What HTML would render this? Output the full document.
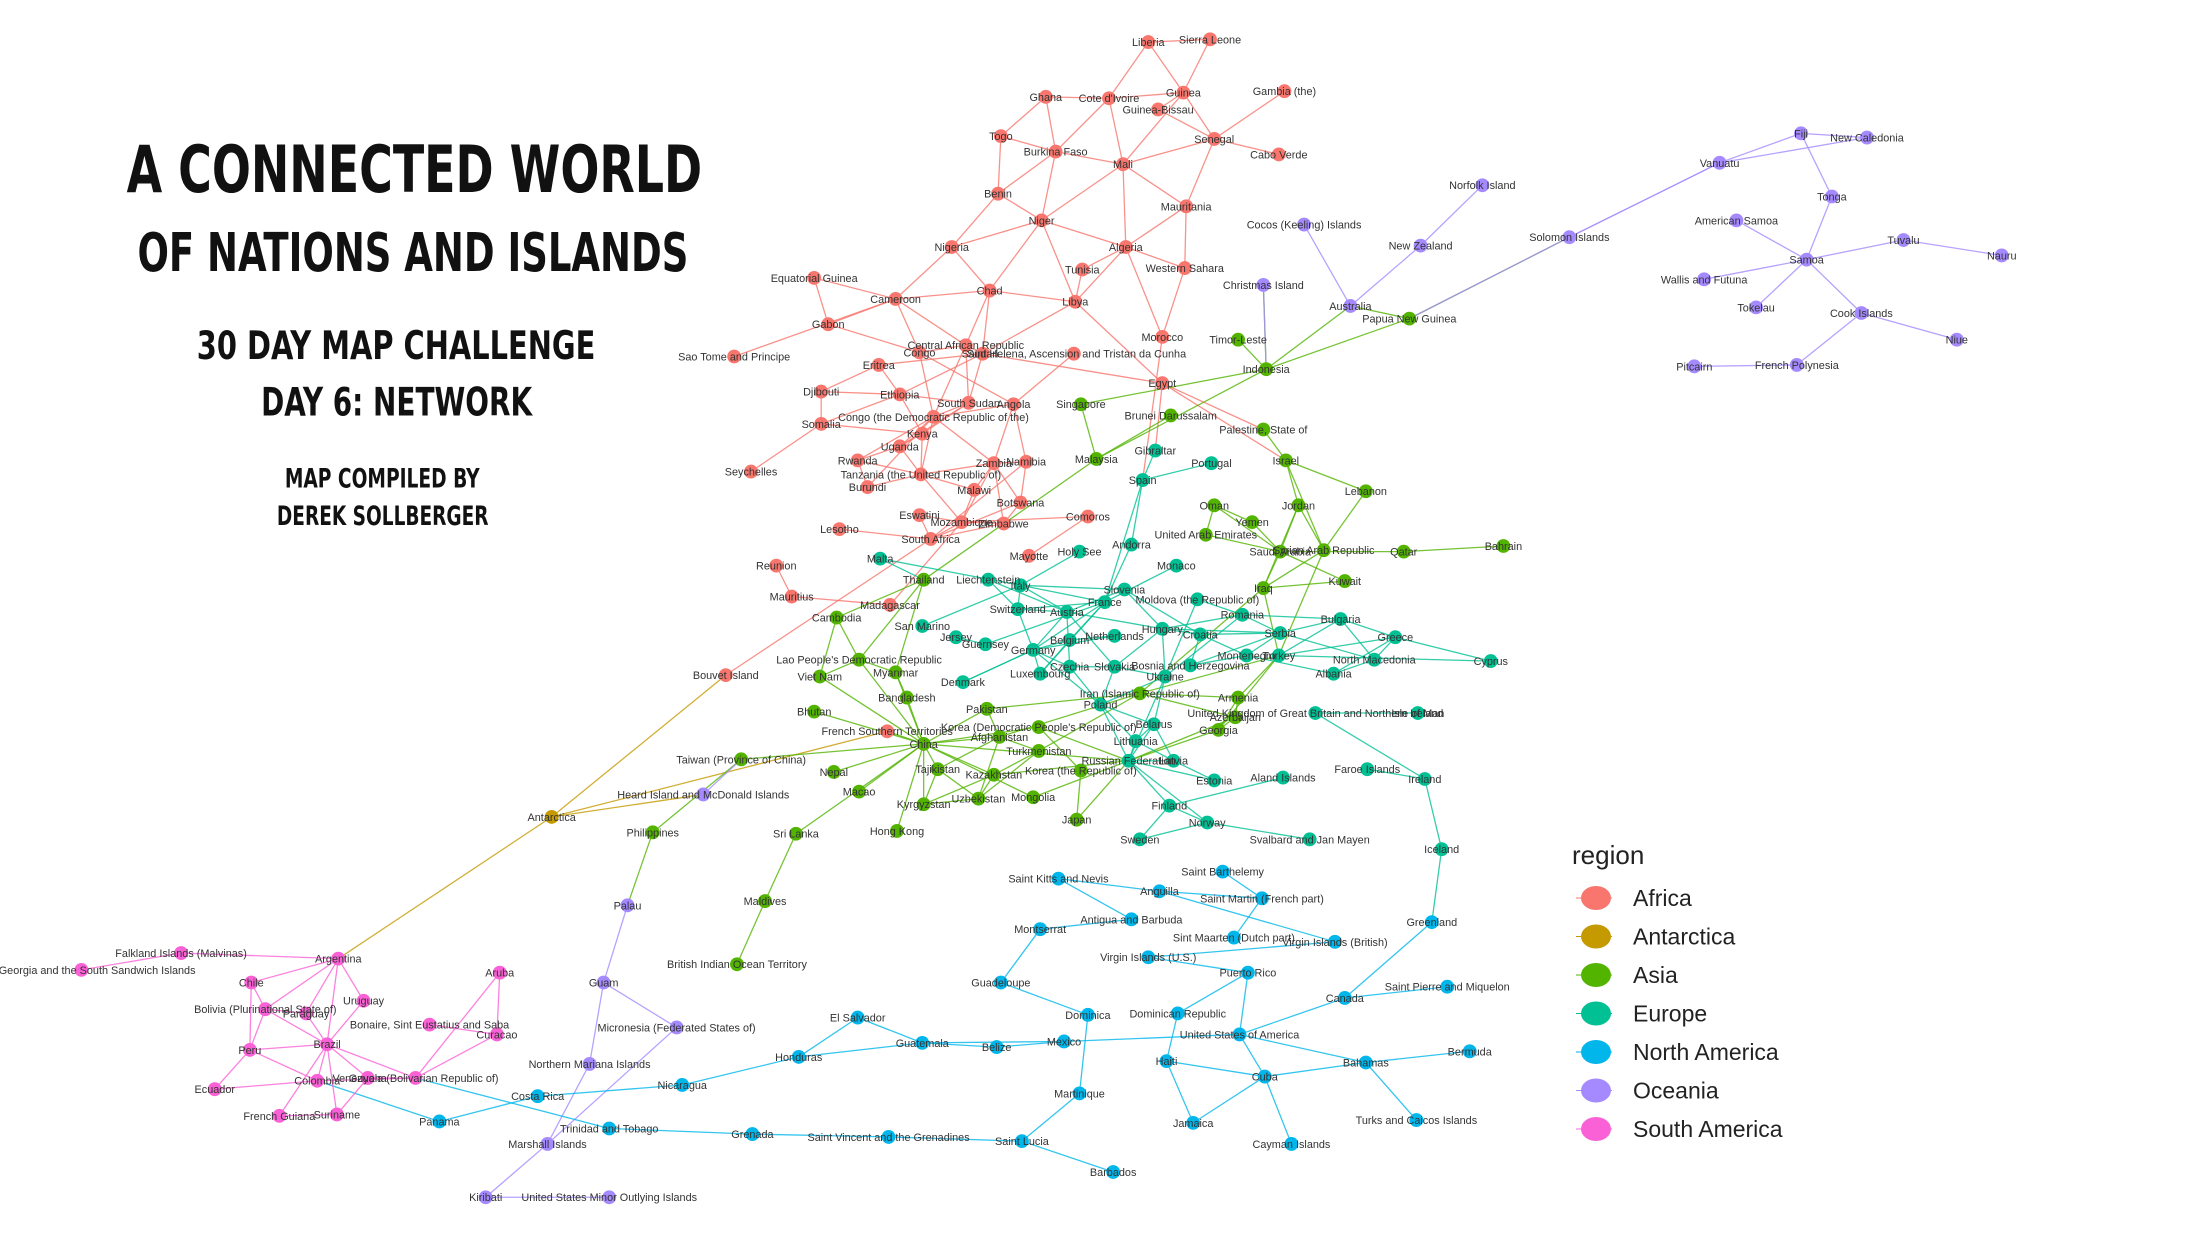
<!DOCTYPE html>
<html><head><meta charset="utf-8">
<style>
html,body{margin:0;padding:0;background:#fff;}
svg{display:block;}
.t{font-family:"DejaVu Sans Condensed","DejaVu Sans","Liberation Sans",sans-serif;font-weight:bold;fill:#111;}
.lbl{font-family:"Liberation Sans",sans-serif;font-size:11px;fill:#333;}
</style></head>
<body>
<svg id="chart" width="2200" height="1256" viewBox="0 0 2200 1256" xmlns="http://www.w3.org/2000/svg">
<rect width="2200" height="1256" fill="#fff"/>
<g transform="scale(0.989)">
<g>
<text class="t" x="128" y="194" font-size="66" textLength="582" lengthAdjust="spacingAndGlyphs">A CONNECTED WORLD</text>
<text class="t" x="139" y="274" font-size="54" textLength="557" lengthAdjust="spacingAndGlyphs">OF NATIONS AND ISLANDS</text>
<text class="t" x="199" y="363" font-size="40" textLength="403" lengthAdjust="spacingAndGlyphs">30 DAY MAP CHALLENGE</text>
<text class="t" x="264" y="420" font-size="40" textLength="274" lengthAdjust="spacingAndGlyphs">DAY 6: NETWORK</text>
<text class="t" x="288" y="493" font-size="27" textLength="197" lengthAdjust="spacingAndGlyphs">MAP COMPILED BY</text>
<text class="t" x="280" y="531" font-size="27" textLength="214" lengthAdjust="spacingAndGlyphs">DEREK SOLLBERGER</text>
</g>
<g id="edges"></g>
<g id="nodes"></g>
</g>
<g id="legend">
<text x="1572" y="864" font-family="Liberation Sans, sans-serif" font-size="26" fill="#222">region</text>
</g>
</svg>
<script>
const regions = ["Africa","Antarctica","Asia","Europe","North America","Oceania","South America"];
const regionColors = ["#F8766D","#C49A00","#53B400","#00C094","#00B6EB","#A58AFF","#FB61D7"];
const nodeNames = [];
const nodeRegion = [];
const nodeX = [];
const nodeY = [];
const rawNodes = `Liberia,0,818,30;Sierra Leone,0,862,28;Ghana,0,745,69;Cote d'Ivoire,0,790,70;Guinea,0,843,66;Guinea-Bissau,0,825,78;Gambia (the),0,915,65;Togo,0,713,97;Burkina Faso,0,752,108;Mali,0,800,117;Senegal,0,865,99;Cabo Verde,0,911,110;Benin,0,711,138;Mauritania,0,845,147;Niger,0,742,157;Nigeria,0,678,176;Algeria,0,802,176;Tunisia,0,771,192;Western Sahara,0,844,191;Chad,0,705,207;Libya,0,766,215;Cameroon,0,638,213;Equatorial Guinea,0,580,198;Gabon,0,590,231;Central African Republic,0,688,246;Congo,0,655,251;Sudan,0,700,252;Saint Helena; Ascension and Tristan da Cunha,0,765,252;Morocco,0,828,240;Egypt,0,828,273;Sao Tome and Principe,0,523,254;Eritrea,0,626,260;Djibouti,0,585,279;Ethiopia,0,641,281;Somalia,0,585,302;South Sudan,0,690,287;Angola,0,722,288;Congo (the Democratic Republic of the),0,665,297;Kenya,0,657,309;Uganda,0,641,318;Rwanda,0,611,328;Tanzania (the United Republic of),0,656,338;Burundi,0,618,347;Zambia,0,708,330;Namibia,0,731,329;Malawi,0,694,349;Seychelles,0,535,336;Botswana,0,727,358;Eswatini,0,655,367;Mozambique,0,685,372;Zimbabwe,0,715,373;Comoros,0,775,368;Lesotho,0,598,377;South Africa,0,663,384;Mayotte,0,733,396;Reunion,0,553,403;Mauritius,0,564,425;Madagascar,0,634,431;Bouvet Island,0,517,481;French Southern Territories,0,632,521;Antarctica,1,393,582;Singapore,2,770,288;Brunei Darussalam,2,834,296;Malaysia,2,781,327;Palestine, State of,2,900,306;Israel,2,916,328;Lebanon,2,973,350;Oman,2,865,360;Jordan,2,925,360;Yemen,2,892,372;United Arab Emirates,2,859,381;Saudi Arabia,2,912,393;Syrian Arab Republic,2,943,392;Qatar,2,1000,393;Bahrain,2,1071,389;Kuwait,2,958,414;Iraq,2,900,419;Thailand,2,658,413;Cambodia,2,596,440;Timor-Leste,2,882,242;Indonesia,2,902,263;Papua New Guinea,2,1004,227;Lao People's Democratic Republic,2,612,470;Viet Nam,2,584,482;Myanmar,2,638,479;Bangladesh,2,646,497;Bhutan,2,580,507;Pakistan,2,703,505;Iran (Islamic Republic of),2,812,494;Armenia,2,882,497;Azerbaijan,2,880,511;Georgia,2,868,520;Korea (Democratic People's Republic of),2,740,518;Afghanistan,2,712,525;China,2,658,530;Turkmenistan,2,740,535;Taiwan (Province of China),2,528,541;Tajikistan,2,668,548;Kazakhstan,2,708,552;Korea (the Republic of),2,770,549;Nepal,2,594,550;Macao,2,612,564;Kyrgyzstan,2,658,573;Uzbekistan,2,697,569;Mongolia,2,736,568;Japan,2,767,584;Sri Lanka,2,567,594;Hong Kong,2,639,592;Philippines,2,465,593;Maldives,2,545,642;British Indian Ocean Territory,2,525,687;Gibraltar,3,823,321;Portugal,3,863,330;Spain,3,814,342;Andorra,3,806,388;Monaco,3,838,403;Holy See,3,769,393;Malta,3,627,398;Liechtenstein,3,704,413;Italy,3,727,417;Slovenia,3,801,420;France,3,787,429;Switzerland,3,725,434;Austria,3,760,436;Moldova (the Republic of),3,853,427;Romania,3,885,438;Bulgaria,3,955,441;San Marino,3,657,446;Hungary,3,828,448;Croatia,3,855,452;Netherlands,3,794,453;Belgium,3,762,456;Serbia,3,912,451;Greece,3,994,454;Jersey,3,681,454;Guernsey,3,702,459;Germany,3,736,463;Montenegro,3,888,467;Turkey,3,911,467;North Macedonia,3,979,470;Cyprus,3,1062,471;Czechia,3,762,475;Slovakia,3,794,475;Bosnia and Herzegovina,3,848,474;Ukraine,3,830,482;Albania,3,950,480;Luxembourg,3,741,480;Denmark,3,686,486;Poland,3,784,502;United Kingdom of Great Britain and Northern Ireland,3,937,508;Isle of Man,3,1010,508;Belarus,3,822,516;Lithuania,3,809,528;Russian Federation,3,804,542;Latvia,3,836,542;Estonia,3,865,556;Aland Islands,3,914,554;Faroe Islands,3,974,548;Ireland,3,1015,555;Finland,3,833,574;Norway,3,860,586;Sweden,3,812,598;Svalbard and Jan Mayen,3,933,598;Iceland,3,1027,605;Greenland,4,1020,657;Saint Barthelemy,4,871,621;Saint Kitts and Nevis,4,754,626;Anguilla,4,826,635;Saint Martin (French part),4,899,640;Antigua and Barbuda,4,806,655;Montserrat,4,741,662;Sint Maarten (Dutch part),4,879,668;Virgin Islands (British),4,951,671;Virgin Islands (U.S.),4,818,682;Puerto Rico,4,889,693;Guadeloupe,4,713,700;Saint Pierre and Miquelon,4,1031,703;Canada,4,958,711;Dominica,4,775,723;Dominican Republic,4,839,722;El Salvador,4,611,725;Guatemala,4,657,743;Belize,4,710,746;Mexico,4,758,742;United States of America,4,883,737;Honduras,4,569,753;Haiti,4,831,756;Bahamas,4,973,757;Bermuda,4,1047,749;Cuba,4,901,767;Nicaragua,4,486,773;Martinique,4,769,779;Costa Rica,4,383,781;Jamaica,4,850,800;Turks and Caicos Islands,4,1009,798;Cayman Islands,4,920,815;Panama,4,313,799;Trinidad and Tobago,4,434,804;Grenada,4,536,808;Saint Vincent and the Grenadines,4,633,810;Saint Lucia,4,728,813;Barbados,4,793,835;Aruba,6,356,693;Curacao,6,354,737;Bonaire, Sint Eustatius and Saba,6,306,730;Falkland Islands (Malvinas),6,129,679;South Georgia and the South Sandwich Islands,6,58,691;Argentina,6,241,683;Chile,6,179,700;Uruguay,6,259,713;Bolivia (Plurinational State of),6,189,719;Paraguay,6,218,722;Brazil,6,233,744;Peru,6,178,748;Colombia,6,226,770;Venezuela (Bolivarian Republic of),6,296,768;Guyana,6,262,768;Ecuador,6,153,776;French Guiana,6,199,795;Suriname,6,240,794;Fiji,5,1283,95;New Caledonia,5,1330,98;Vanuatu,5,1225,116;Tonga,5,1305,140;Norfolk Island,5,1056,132;American Samoa,5,1237,157;Cocos (Keeling) Islands,5,929,160;New Zealand,5,1012,175;Solomon Islands,5,1118,169;Samoa,5,1287,185;Tuvalu,5,1356,171;Nauru,5,1426,182;Wallis and Futuna,5,1214,199;Christmas Island,5,900,203;Australia,5,962,218;Tokelau,5,1251,219;Cook Islands,5,1326,223;Niue,5,1394,242;Pitcairn,5,1207,261;French Polynesia,5,1280,260;Heard Island and McDonald Islands,5,501,566;Palau,5,447,645;Guam,5,430,700;Micronesia (Federated States of),5,482,732;Northern Mariana Islands,5,420,758;Marshall Islands,5,390,815;Kiribati,5,346,853;United States Minor Outlying Islands,5,434,853`;
rawNodes.split(";").reduce((acc, s) => {
  const parts = (acc + s).split(",");
  if (parts.length < 4) return acc + s + ";";
  const y = +parts.pop(), x = +parts.pop(), r = +parts.pop();
  if (isNaN(y) || isNaN(x) || isNaN(r)) return acc + s + ";";
  let name = parts.join(",").replace(";", ",");
  nodeNames.push(name); nodeRegion.push(r); nodeX.push(x); nodeY.push(y);
  return "";
}, "");
const edgeList = `Liberia|Sierra Leone;Liberia|Guinea;Liberia|Cote d'Ivoire;Sierra Leone|Guinea;Guinea|Guinea-Bissau;Guinea|Mali;Guinea|Senegal;Guinea|Cote d'Ivoire;Gambia (the)|Senegal;Guinea-Bissau|Senegal;Senegal|Mali;Senegal|Mauritania;Senegal|Cabo Verde;Ghana|Cote d'Ivoire;Ghana|Togo;Ghana|Burkina Faso;Cote d'Ivoire|Burkina Faso;Cote d'Ivoire|Mali;Togo|Benin;Togo|Burkina Faso;Burkina Faso|Mali;Burkina Faso|Niger;Burkina Faso|Benin;Mali|Niger;Mali|Algeria;Mali|Mauritania;Benin|Niger;Benin|Nigeria;Mauritania|Algeria;Mauritania|Western Sahara;Niger|Nigeria;Niger|Algeria;Niger|Chad;Niger|Libya;Nigeria|Cameroon;Nigeria|Chad;Algeria|Tunisia;Algeria|Libya;Algeria|Morocco;Algeria|Western Sahara;Western Sahara|Morocco;Tunisia|Libya;Libya|Chad;Libya|Egypt;Libya|Sudan;Chad|Cameroon;Chad|Central African Republic;Chad|Sudan;Cameroon|Equatorial Guinea;Cameroon|Gabon;Cameroon|Central African Republic;Cameroon|Congo;Gabon|Equatorial Guinea;Gabon|Congo;Congo|Central African Republic;Congo|Congo (the Democratic Republic of the);Congo|Angola;Egypt|Sudan;Egypt|Israel;Egypt|Palestine, State of;Sao Tome and Principe|Cameroon;Eritrea|Ethiopia;Eritrea|Djibouti;Eritrea|Sudan;Djibouti|Ethiopia;Djibouti|Somalia;Ethiopia|Somalia;Ethiopia|Kenya;Ethiopia|South Sudan;Ethiopia|Sudan;Somalia|Kenya;South Sudan|Central African Republic;South Sudan|Congo (the Democratic Republic of the);South Sudan|Kenya;South Sudan|Uganda;South Sudan|Sudan;Sudan|Central African Republic;Angola|Congo (the Democratic Republic of the);Angola|Zambia;Angola|Namibia;Angola|Saint Helena, Ascension and Tristan da Cunha;Congo (the Democratic Republic of the)|Uganda;Congo (the Democratic Republic of the)|Rwanda;Congo (the Democratic Republic of the)|Burundi;Congo (the Democratic Republic of the)|Tanzania (the United Republic of);Congo (the Democratic Republic of the)|Zambia;Congo (the Democratic Republic of the)|Central African Republic;Kenya|Uganda;Kenya|Tanzania (the United Republic of);Uganda|Rwanda;Uganda|Tanzania (the United Republic of);Rwanda|Burundi;Rwanda|Tanzania (the United Republic of);Burundi|Tanzania (the United Republic of);Tanzania (the United Republic of)|Zambia;Tanzania (the United Republic of)|Malawi;Tanzania (the United Republic of)|Mozambique;Zambia|Malawi;Zambia|Mozambique;Zambia|Zimbabwe;Zambia|Namibia;Zambia|Botswana;Namibia|Botswana;Namibia|South Africa;Botswana|Zimbabwe;Botswana|South Africa;Mozambique|Malawi;Mozambique|Zimbabwe;Mozambique|Eswatini;Mozambique|South Africa;Eswatini|South Africa;Lesotho|South Africa;Zimbabwe|South Africa;Seychelles|Somalia;Comoros|Mozambique;Mayotte|Comoros;Reunion|Mauritius;Mauritius|Madagascar;Madagascar|Mozambique;Bouvet Island|South Africa;Antarctica|Bouvet Island;Antarctica|Argentina;Antarctica|Heard Island and McDonald Islands;Antarctica|French Southern Territories;Morocco|Spain;Egypt|Gibraltar;Spain|Gibraltar;Spain|Portugal;Spain|France;Spain|Andorra;Singapore|Malaysia;Brunei Darussalam|Malaysia;Malaysia|Thailand;Malaysia|Indonesia;Singapore|Indonesia;Indonesia|Timor-Leste;Indonesia|Papua New Guinea;Indonesia|Australia;Indonesia|Christmas Island;Papua New Guinea|Solomon Islands;Papua New Guinea|Australia;Solomon Islands|Vanuatu;Israel|Palestine, State of;Israel|Lebanon;Israel|Jordan;Israel|Syrian Arab Republic;Lebanon|Syrian Arab Republic;Jordan|Syrian Arab Republic;Jordan|Iraq;Jordan|Saudi Arabia;Saudi Arabia|Yemen;Saudi Arabia|Oman;Saudi Arabia|United Arab Emirates;Saudi Arabia|Qatar;Saudi Arabia|Kuwait;Saudi Arabia|Iraq;Oman|Yemen;Oman|United Arab Emirates;Syrian Arab Republic|Iraq;Syrian Arab Republic|Turkey;Iraq|Kuwait;Iraq|Iran (Islamic Republic of);Iraq|Turkey;Qatar|Bahrain;Thailand|Cambodia;Thailand|Lao People's Democratic Republic;Thailand|Myanmar;Cambodia|Lao People's Democratic Republic;Cambodia|Viet Nam;Lao People's Democratic Republic|Viet Nam;Lao People's Democratic Republic|China;Lao People's Democratic Republic|Myanmar;Viet Nam|China;Myanmar|China;Myanmar|Bangladesh;Bhutan|China;Nepal|China;Pakistan|China;Pakistan|Afghanistan;Pakistan|Iran (Islamic Republic of);Afghanistan|Iran (Islamic Republic of);Afghanistan|China;Afghanistan|Turkmenistan;Afghanistan|Tajikistan;Afghanistan|Uzbekistan;Iran (Islamic Republic of)|Turkmenistan;Iran (Islamic Republic of)|Armenia;Iran (Islamic Republic of)|Azerbaijan;Iran (Islamic Republic of)|Turkey;Armenia|Georgia;Armenia|Azerbaijan;Armenia|Turkey;Azerbaijan|Georgia;Azerbaijan|Russian Federation;Georgia|Russian Federation;Georgia|Turkey;China|Korea (Democratic People's Republic of);China|Kazakhstan;China|Kyrgyzstan;China|Tajikistan;China|Mongolia;China|Macao;China|Hong Kong;China|Russian Federation;China|Taiwan (Province of China);China|Bangladesh;China|French Southern Territories;Korea (Democratic People's Republic of)|Korea (the Republic of);Korea (Democratic People's Republic of)|Russian Federation;Kazakhstan|Russian Federation;Kazakhstan|Turkmenistan;Kazakhstan|Uzbekistan;Kazakhstan|Kyrgyzstan;Uzbekistan|Turkmenistan;Uzbekistan|Tajikistan;Uzbekistan|Kyrgyzstan;Kyrgyzstan|Tajikistan;Mongolia|Russian Federation;Japan|Korea (the Republic of);Japan|Russian Federation;Sri Lanka|China;Maldives|Sri Lanka;British Indian Ocean Territory|Maldives;Philippines|Taiwan (Province of China);Philippines|Palau;Palau|Guam;Guam|Northern Mariana Islands;Guam|Micronesia (Federated States of);Micronesia (Federated States of)|Marshall Islands;Marshall Islands|Kiribati;Marshall Islands|Northern Mariana Islands;Kiribati|United States Minor Outlying Islands;Heard Island and McDonald Islands|Taiwan (Province of China);Malta|Italy;Malta|Thailand;France|Belgium;France|Luxembourg;France|Germany;France|Switzerland;France|Italy;France|Monaco;France|Andorra;Italy|Switzerland;Italy|Austria;Italy|Slovenia;Italy|San Marino;Italy|Holy See;Switzerland|Liechtenstein;Switzerland|Austria;Switzerland|Germany;Austria|Liechtenstein;Austria|Germany;Austria|Czechia;Austria|Slovakia;Austria|Hungary;Austria|Slovenia;Slovenia|Croatia;Slovenia|Hungary;Germany|Netherlands;Germany|Belgium;Germany|Luxembourg;Germany|Denmark;Germany|Poland;Germany|Czechia;Belgium|Netherlands;Belgium|Luxembourg;Czechia|Poland;Czechia|Slovakia;Slovakia|Poland;Slovakia|Hungary;Slovakia|Ukraine;Hungary|Croatia;Hungary|Serbia;Hungary|Romania;Hungary|Ukraine;Croatia|Serbia;Croatia|Bosnia and Herzegovina;Croatia|Montenegro;Bosnia and Herzegovina|Serbia;Bosnia and Herzegovina|Montenegro;Serbia|Montenegro;Serbia|Romania;Serbia|Bulgaria;Serbia|North Macedonia;Montenegro|Albania;Albania|North Macedonia;Albania|Greece;North Macedonia|Greece;North Macedonia|Bulgaria;Greece|Bulgaria;Greece|Turkey;Bulgaria|Turkey;Bulgaria|Romania;Romania|Moldova (the Republic of);Romania|Ukraine;Moldova (the Republic of)|Ukraine;Ukraine|Poland;Ukraine|Belarus;Ukraine|Russian Federation;Poland|Belarus;Poland|Lithuania;Poland|Russian Federation;Belarus|Lithuania;Belarus|Latvia;Belarus|Russian Federation;Lithuania|Latvia;Lithuania|Russian Federation;Latvia|Estonia;Latvia|Russian Federation;Estonia|Russian Federation;Russian Federation|Finland;Russian Federation|Norway;Finland|Norway;Finland|Sweden;Norway|Sweden;Finland|Aland Islands;Norway|Svalbard and Jan Mayen;United Kingdom of Great Britain and Northern Ireland|Ireland;United Kingdom of Great Britain and Northern Ireland|Isle of Man;Faroe Islands|Ireland;Ireland|Iceland;Iceland|Greenland;Cyprus|Turkey;Cyprus|Greece;Jersey|Guernsey;Guernsey|France;Denmark|Germany;Greenland|Canada;Canada|United States of America;Canada|Saint Pierre and Miquelon;United States of America|Mexico;United States of America|Bahamas;United States of America|Cuba;United States of America|Puerto Rico;Bahamas|Bermuda;Bahamas|Turks and Caicos Islands;Bahamas|Cuba;Cuba|Haiti;Cuba|Jamaica;Cuba|Cayman Islands;Haiti|Dominican Republic;Haiti|Jamaica;Dominican Republic|Puerto Rico;Puerto Rico|Virgin Islands (U.S.);Virgin Islands (U.S.)|Virgin Islands (British);Virgin Islands (British)|Anguilla;Anguilla|Saint Martin (French part);Saint Martin (French part)|Sint Maarten (Dutch part);Saint Martin (French part)|Saint Barthelemy;Anguilla|Saint Kitts and Nevis;Saint Kitts and Nevis|Antigua and Barbuda;Antigua and Barbuda|Montserrat;Montserrat|Guadeloupe;Guadeloupe|Dominica;Dominica|Martinique;Martinique|Saint Lucia;Saint Lucia|Saint Vincent and the Grenadines;Saint Lucia|Barbados;Saint Vincent and the Grenadines|Grenada;Grenada|Trinidad and Tobago;Trinidad and Tobago|Venezuela (Bolivarian Republic of);Mexico|Guatemala;Mexico|Belize;Guatemala|Belize;Guatemala|El Salvador;Guatemala|Honduras;El Salvador|Honduras;Honduras|Nicaragua;Nicaragua|Costa Rica;Costa Rica|Panama;Panama|Colombia;Argentina|Chile;Argentina|Bolivia (Plurinational State of);Argentina|Paraguay;Argentina|Uruguay;Argentina|Brazil;Argentina|Falkland Islands (Malvinas);Falkland Islands (Malvinas)|South Georgia and the South Sandwich Islands;Chile|Bolivia (Plurinational State of);Chile|Peru;Bolivia (Plurinational State of)|Paraguay;Bolivia (Plurinational State of)|Brazil;Bolivia (Plurinational State of)|Peru;Paraguay|Brazil;Uruguay|Brazil;Brazil|Peru;Brazil|Colombia;Brazil|Venezuela (Bolivarian Republic of);Brazil|Guyana;Brazil|Suriname;Brazil|French Guiana;Peru|Ecuador;Peru|Colombia;Colombia|Ecuador;Colombia|Venezuela (Bolivarian Republic of);Venezuela (Bolivarian Republic of)|Guyana;Guyana|Suriname;Suriname|French Guiana;Venezuela (Bolivarian Republic of)|Aruba;Venezuela (Bolivarian Republic of)|Curacao;Curacao|Bonaire, Sint Eustatius and Saba;Aruba|Curacao;Fiji|Vanuatu;Fiji|Tonga;Fiji|New Caledonia;Vanuatu|New Caledonia;Vanuatu|Solomon Islands;Tonga|Samoa;Samoa|American Samoa;Samoa|Wallis and Futuna;Samoa|Tokelau;Samoa|Tuvalu;Samoa|Cook Islands;Tuvalu|Nauru;Cook Islands|Niue;Cook Islands|French Polynesia;French Polynesia|Pitcairn;Australia|New Zealand;New Zealand|Norfolk Island;Australia|Cocos (Keeling) Islands;Christmas Island|Indonesia;Solomon Islands|Papua New Guinea`.split(";");

const SX = 2200/1550, SY = 1256/885;
function xScale(v){ return v*SX; }
function yScale(v){ return v*SY; }
const NS = "http://www.w3.org/2000/svg";
const idx = {}; nodeNames.forEach((n,i)=>idx[n]=i);
const gE = document.getElementById("edges"), gN = document.getElementById("nodes");
edgeList.forEach(e=>{
  const [a,b] = e.split("|"); const i=idx[a], j=idx[b];
  if(i===undefined||j===undefined) return;
  const l = document.createElementNS(NS,"line");
  l.setAttribute("x1",xScale(nodeX[i])); l.setAttribute("y1",yScale(nodeY[i]));
  l.setAttribute("x2",xScale(nodeX[j])); l.setAttribute("y2",yScale(nodeY[j]));
  l.setAttribute("stroke",regionColors[nodeRegion[i]]);
  l.setAttribute("stroke-width","1.3"); l.setAttribute("stroke-opacity","0.8");
  
  
  gE.appendChild(l);
});
nodeNames.forEach((n,i)=>{
  const c = document.createElementNS(NS,"circle");
  c.setAttribute("cx",xScale(nodeX[i])); c.setAttribute("cy",yScale(nodeY[i]));
  c.setAttribute("r","7"); c.setAttribute("fill",regionColors[nodeRegion[i]]);
  
  
  gN.appendChild(c);
});
nodeNames.forEach((n,i)=>{
  const t = document.createElementNS(NS,"text");
  t.setAttribute("x",xScale(nodeX[i])); t.setAttribute("y",yScale(nodeY[i])+4);
  t.setAttribute("text-anchor","middle"); t.setAttribute("class","lbl");
  t.textContent = n;
  
  
  gN.appendChild(t);
});
const gL = document.getElementById("legend");
regions.forEach((r,k)=>{
  const y = 898 + k*38.5;
  const ln = document.createElementNS(NS,"line");
  ln.setAttribute("x1",1576); ln.setAttribute("x2",1612); ln.setAttribute("y1",y); ln.setAttribute("y2",y);
  ln.setAttribute("stroke",regionColors[k]); ln.setAttribute("stroke-width","1");
  
  
  gL.appendChild(ln);
  const el = document.createElementNS(NS,"ellipse");
  el.setAttribute("cx",1596); el.setAttribute("cy",y); el.setAttribute("rx",15); el.setAttribute("ry",12);
  el.setAttribute("fill",regionColors[k]);
  
  
  gL.appendChild(el);
  const t = document.createElementNS(NS,"text");
  t.setAttribute("x",1633); t.setAttribute("y",y+8);
  t.setAttribute("font-family","Liberation Sans, sans-serif"); t.setAttribute("font-size","23"); t.setAttribute("fill","#222");
  t.textContent = r;
  
  
  gL.appendChild(t);
});
</script>
</body></html>
